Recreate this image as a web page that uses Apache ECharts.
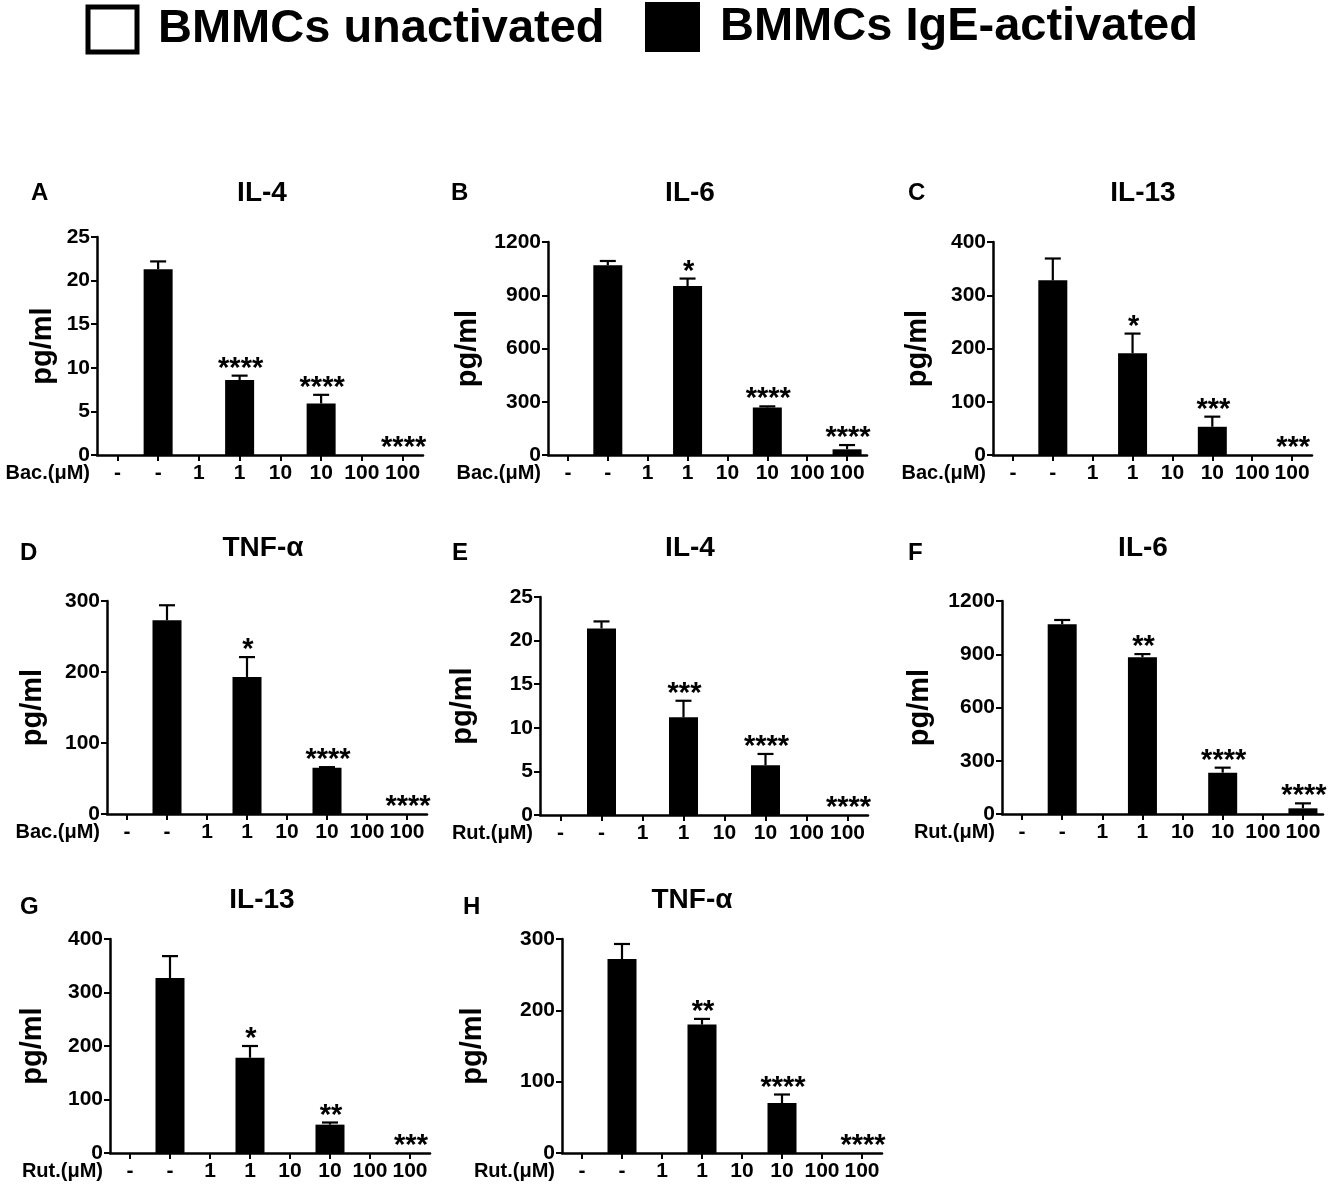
<!DOCTYPE html>
<html>
<head>
<meta charset="utf-8">
<script src="https://cdn.jsdelivr.net/npm/echarts@6/dist/echarts.min.js"></script>
<style>
html,body{margin:0;padding:0;background:#fff;}
#chart{width:1334px;height:1192px;}
</style>
</head>
<body>
<div id="chart"></div>
<script>
// ---------- DATA ----------
const categories = ['-', '-', '1', '1', '10', '10', '100', '100'];
const seriesNames = ['BMMCs unactivated', 'BMMCs IgE-activated'];
const panelLetters = ['A', 'B', 'C', 'D', 'E', 'F', 'G', 'H'];
const panelTitles = ['IL-4', 'IL-6', 'IL-13', 'TNF-α', 'IL-4', 'IL-6', 'IL-13', 'TNF-α'];
const drugNames = ['Bac.(μM)', 'Bac.(μM)', 'Bac.(μM)', 'Bac.(μM)', 'Rut.(μM)', 'Rut.(μM)', 'Rut.(μM)', 'Rut.(μM)'];
const yMax = [25, 1200, 400, 300, 25, 1200, 400, 300];
const yInterval = [5, 300, 100, 100, 5, 300, 100, 100];

// unactivated groups (-, 1, 10, 100): no visible bars
const unactivatedA = [0, 0, 0, 0];
const unactivatedB = [0, 0, 0, 0];
const unactivatedC = [0, 0, 0, 0];
const unactivatedD = [0, 0, 0, 0];
const unactivatedE = [0, 0, 0, 0];
const unactivatedF = [0, 0, 0, 0];
const unactivatedG = [0, 0, 0, 0];
const unactivatedH = [0, 0, 0, 0];

// IgE-activated groups (-, 1, 10, 100): mean, SEM, significance
const activatedA = [21.3, 8.6, 5.9, 0];
const semA = [0.9, 0.5, 1.0, 0];
const starsA = ['', '****', '****', '****'];

const activatedB = [1069, 952, 268, 32];
const semB = [24, 42, 6, 24];
const starsB = ['', '*', '****', '****'];

const activatedC = [328, 191, 53, 0];
const semC = [41, 37, 19, 0];
const starsC = ['', '*', '***', '***'];

const activatedD = [273, 193, 65, 0];
const semD = [21, 28, 1, 0];
const starsD = ['', '*', '****', '****'];

const activatedE = [21.4, 11.2, 5.7, 0];
const semE = [0.8, 1.9, 1.3, 0];
const starsE = ['', '***', '****', '****'];

const activatedF = [1069, 883, 233, 32];
const semF = [24, 18, 28, 28];
const starsF = ['', '**', '****', '****'];

const activatedG = [327, 178, 53, 0];
const semG = [41, 22, 4, 0];
const starsG = ['', '*', '**', '***'];

const activatedH = [272, 180, 70, 0];
const semH = [21, 8, 12, 0];
const starsH = ['', '**', '****', '****'];

const unactivatedAll = [unactivatedA, unactivatedB, unactivatedC, unactivatedD, unactivatedE, unactivatedF, unactivatedG, unactivatedH];
const activatedAll = [activatedA, activatedB, activatedC, activatedD, activatedE, activatedF, activatedG, activatedH];
const semAll = [semA, semB, semC, semD, semE, semF, semG, semH];
const starsAll = [starsA, starsB, starsC, starsD, starsE, starsF, starsG, starsH];

// ---------- LAYOUT ----------
// [axisX, axisRight, topY, zeroY, titleCX, titleCY, letterX, letterCY, yNameGap]
const layout = [
  [97, 423, 237, 455, 262, 193, 31, 193, 40],
  [548, 867, 242, 455, 690, 193, 451, 193, 66],
  [993, 1312, 242, 455, 1143, 193, 908, 193, 61],
  [107, 427, 601, 814, 263, 548, 20, 553, 60],
  [540, 868, 597, 815, 690, 548, 452, 553, 63],
  [1002, 1323, 601, 814, 1143, 548, 908, 553, 68],
  [110, 430, 939, 1153, 262, 900, 20, 907, 63],
  [562, 882, 939, 1153, 692, 900, 463, 907, 75]
];

const FF = '"Liberation Sans", Arial, Helvetica, sans-serif';

const grids = [], xAxes = [], yAxes = [], series = [], titles = [];

layout.forEach((L, i) => {
  const [ax, ar, ty, zy, tcx, tcy, lx, lcy, yng] = L;
  grids.push({left: ax, top: ty, width: ar - ax, height: zy - ty, containLabel: false, outerBoundsMode: 'none'});
  xAxes.push({
    type: 'category', gridIndex: i, data: categories, boundaryGap: true,
    axisLine: {show: true, lineStyle: {color: '#000', width: 2.5}},
    axisTick: {show: true, alignWithLabel: true, interval: 0, length: 6, lineStyle: {color: '#000', width: 2}},
    axisLabel: {interval: 0, margin: 8, color: '#000', fontSize: 21, fontWeight: 'bold', fontFamily: FF},
    splitLine: {show: false},
    name: drugNames[i], nameLocation: 'start', nameGap: 7, nameMoveOverlap: false,
    nameTextStyle: {color: '#000', fontSize: 20, fontWeight: 'bold', fontFamily: FF, verticalAlign: 'top', padding: [8, 0, 0, 0]}
  });
  yAxes.push({
    type: 'value', gridIndex: i, min: 0, max: yMax[i], interval: yInterval[i],
    axisLine: {show: true, lineStyle: {color: '#000', width: 2.5}},
    axisTick: {show: true, length: 6, lineStyle: {color: '#000', width: 2}},
    axisLabel: {margin: 7, color: '#000', fontSize: 21, fontWeight: 'bold', fontFamily: FF,
      formatter: function (v) { return String(v); }},
    splitLine: {show: false},
    name: 'pg/ml', nameLocation: 'middle', nameGap: yng, nameMoveOverlap: false,
    nameTextStyle: {color: '#000', fontSize: 29, fontWeight: 'bold', fontFamily: FF}
  });
  titles.push({text: panelTitles[i], left: tcx, top: tcy, textAlign: 'center', textVerticalAlign: 'middle', padding: 0,
    textStyle: {color: '#000', fontSize: 28, fontWeight: 'bold', fontFamily: FF}});
  titles.push({text: panelLetters[i], left: lx, top: lcy, textAlign: 'left', textVerticalAlign: 'middle', padding: 0,
    textStyle: {color: '#000', fontSize: 24, fontWeight: 'bold', fontFamily: FF}});

  const unact = unactivatedAll[i], act = activatedAll[i], sem = semAll[i], stars = starsAll[i];
  const unData = [], acData = [], errData = [];
  for (let g = 0; g < 4; g++) {
    unData.push(unact[g], null);
    acData.push(null, act[g]);
    errData.push([2 * g + 1, act[g], sem[g]]);
  }
  series.push({
    type: 'bar', name: seriesNames[0], xAxisIndex: i, yAxisIndex: i, data: unData,
    barWidth: 29, barGap: '-100%', z: 2, silent: true,
    itemStyle: {color: '#fff', borderColor: '#000', borderWidth: 0}
  });
  series.push({
    type: 'bar', name: seriesNames[1], xAxisIndex: i, yAxisIndex: i, data: acData,
    barWidth: 29, barGap: '-100%', z: 2, silent: true,
    itemStyle: {color: '#000'}
  });
  series.push({
    type: 'custom', xAxisIndex: i, yAxisIndex: i, data: errData, z: 5, silent: true,
    encode: {x: 0, y: 1},
    renderItem: function (params, api) {
      const c = api.value(0), m = api.value(1), e = api.value(2);
      const pm = api.coord([c, m]);
      const pe = api.coord([c, m + e]);
      const children = [];
      if (e > 0) {
        children.push({type: 'line', shape: {x1: pm[0], y1: pm[1], x2: pe[0], y2: pe[1]}, style: {stroke: '#000', lineWidth: 2.2}});
        children.push({type: 'line', shape: {x1: pe[0] - 8, y1: pe[1], x2: pe[0] + 8, y2: pe[1]}, style: {stroke: '#000', lineWidth: 2.2}});
      }
      const s = stars[params.dataIndex];
      if (s) {
        children.push({type: 'text', x: pe[0] + 1, y: pe[1] - 7,
          style: {text: s, fill: '#000', font: 'bold 29px ' + FF, align: 'center', verticalAlign: 'middle'}});
      }
      return {type: 'group', children: children};
    }
  });
});

const chart = echarts.init(document.getElementById('chart'), null, {renderer: 'canvas'});
chart.setOption({
  animation: false,
  backgroundColor: '#fff',
  title: titles,
  legend: [
    {data: [{name: seriesNames[0], itemStyle: {color: '#fff', borderColor: '#000', borderWidth: 5}}],
      left: 85.5, top: 4.5, itemWidth: 49, itemHeight: 45, selectedMode: false, icon: 'rect', padding: 0,
      textStyle: {color: '#000', fontSize: 47, fontWeight: 'bold', fontFamily: FF, padding: [0, 0, 0, 16]}},
    {data: [{name: seriesNames[1], itemStyle: {color: '#000', borderWidth: 0}}],
      left: 645, top: 2, itemWidth: 55, itemHeight: 50, selectedMode: false, icon: 'rect', padding: 0,
      textStyle: {color: '#000', fontSize: 47, fontWeight: 'bold', fontFamily: FF, padding: [0, 0, 0, 15]}}
  ],
  grid: grids,
  xAxis: xAxes,
  yAxis: yAxes,
  series: series
});
</script>
</body>
</html>
